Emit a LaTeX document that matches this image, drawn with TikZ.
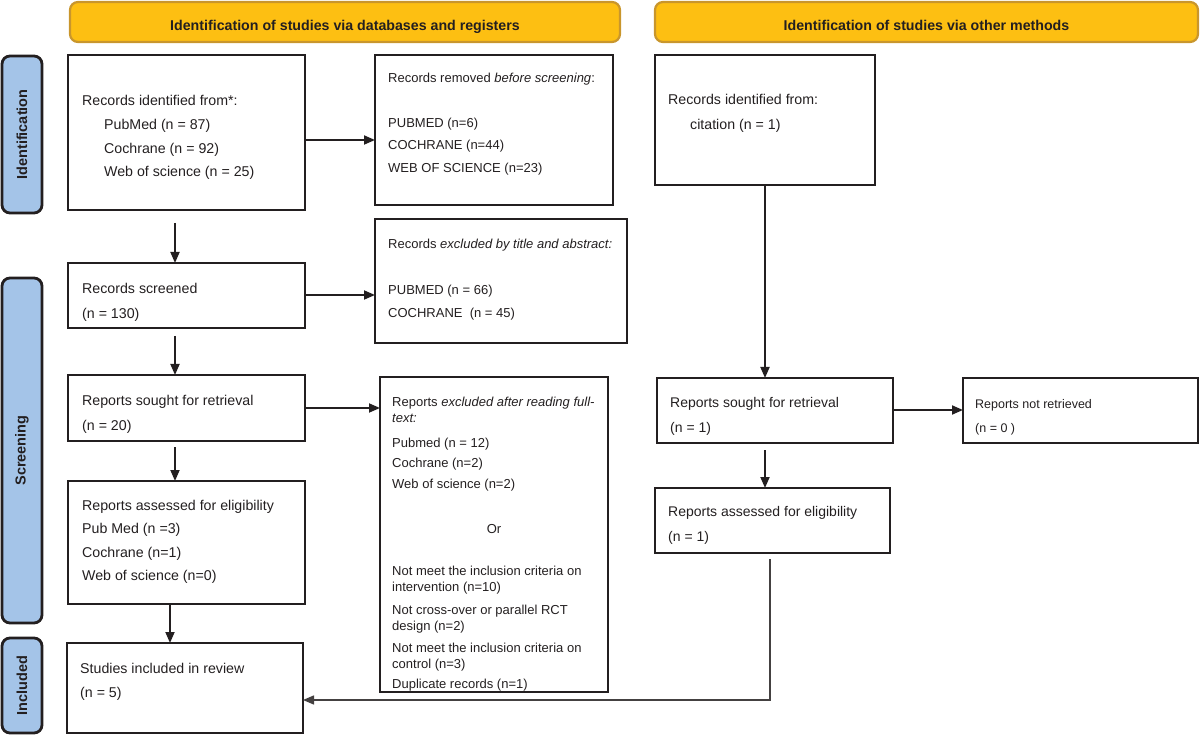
\documentclass[tikz,border=0pt]{standalone}
\usepackage{fontspec}
\setmainfont{Liberation Sans}
\usetikzlibrary{arrows.meta,calc}
\definecolor{ink}{HTML}{231F20}
\definecolor{gold}{HTML}{FDBF12}
\definecolor{goldline}{HTML}{C9962C}
\definecolor{sideblue}{HTML}{A4C4E8}
\newcommand{\mybox}[6][]{\node[box,#1,minimum width={#5-#3},minimum height={#6-#4}] (#2) at ({(#3+#5)/2},{(#4+#6)/2}) {};}
\begin{document}
\begin{tikzpicture}[x=1pt,y=-1pt,
  box/.style={draw=ink, line width=2.8pt, inner sep=0pt, outer sep=0pt, rectangle},
  hdr/.style={draw=goldline, fill=gold, line width=2.2pt, rounded corners=8pt, inner sep=0pt, outer sep=0pt},
  hdrtext/.style={inner sep=0pt, anchor=base, text=ink, font=\fontsize{14.2}{16}\selectfont\bfseries},
  side/.style={draw=ink, fill=sideblue, line width=2.8pt, rounded corners=8pt, inner sep=0pt, outer sep=0pt},
  sidetext/.style={inner sep=0pt, rotate=90, text=ink, font=\fontsize{14.5}{16}\selectfont\bfseries},
  txtL/.style={inner sep=0pt, anchor=north west, align=left, text=ink, font=\fontsize{14.2}{23.7}\selectfont},
  txtS/.style={inner sep=0pt, anchor=north west, align=left, text=ink, font=\fontsize{13}{22.5}\selectfont},
  arr/.style={draw=ink, line width=1.8pt, -{Triangle[length=11pt,width=9pt]}},
  thinarr/.style={draw=ink!85, line width=1.4pt, -{Triangle[length=11pt,width=9pt]}}
]
\useasboundingbox (0,0) rectangle (1200,735);

% headers
\node[hdr, minimum width=550, minimum height=40] (H1) at (345,22) {};
\node[hdrtext] (H1t) at (345,30.5) {Identification of studies via databases and registers};
\node[hdr, minimum width=543, minimum height=40] (H2) at (926.5,22) {};
\node[hdrtext] (H2t) at (926.5,30.5) {Identification of studies via other methods};

% side labels
\node[side, minimum width=40, minimum height=157] (L1) at (22,134.5) {};
\node[sidetext] (L1t) at (L1.center) {Identification};
\node[side, minimum width=40, minimum height=345] (L2) at (22,450.5) {};
\node[sidetext] (L2t) at (L2.center) {Screening};
\node[side, minimum width=40, minimum height=95] (L3) at (22,685.5) {};
\node[sidetext] (L3t) at (L3.center) {Included};

% left column boxes
\mybox{B1}{68}{55}{305}{210}
\node[txtL] (B1t) at (82,95.3) {Records identified from*:\\
\hspace*{22pt}PubMed (n = 87)\\
\hspace*{22pt}Cochrane (n = 92)\\
\hspace*{22pt}Web of science (n = 25)};

\mybox{B2}{375}{55}{613}{205}
\node[txtS] (B2t) at (388,72.5) {Records removed \textit{before screening}:\\[22.5pt]
PUBMED (n=6)\\
COCHRANE (n=44)\\
WEB OF SCIENCE (n=23)};

\mybox{B3}{68}{263}{305}{328}
\node[txtL, font=\fontsize{14.2}{25}\selectfont] (B3t) at (82,282.8) {Records screened\\ (n = 130)};

\mybox{B4}{375}{219}{627}{343}
\node[txtS, font=\fontsize{13}{23}\selectfont] (B4t) at (388,238.5) {Records \textit{excluded by title and abstract:}\\[23.5pt]
PUBMED (n = 66)\\
COCHRANE\ \ (n = 45)};

\mybox{B5}{68}{375}{305}{441}
\node[txtL, font=\fontsize{14.2}{25}\selectfont] (B5t) at (82,394.8) {Reports sought for retrieval\\ (n = 20)};

\node[txtS, font=\fontsize{13}{16}\selectfont] (B6a) at (392,396.5) {Reports \textit{excluded after reading full-}\\
\textit{text:}\\[9pt]
Pubmed (n = 12)\\[4.5pt]
Cochrane (n=2)\\[4.5pt]
Web of science (n=2)};
\node[inner sep=0pt, anchor=base, text=ink, font=\fontsize{13}{16}\selectfont] (B6or) at (494,533) {Or};
\node[txtS, font=\fontsize{13}{16}\selectfont] (B6b) at (392,565.5) {Not meet the inclusion criteria on\\
intervention (n=10)\\[7pt]
Not cross-over or parallel RCT\\
design (n=2)\\[6pt]
Not meet the inclusion criteria on\\
control (n=3)\\[4pt]
Duplicate records (n=1)};
\mybox{B6}{380}{377}{608}{692}

\mybox{B7}{68}{481}{305}{604}
\node[txtL, font=\fontsize{14.2}{23.5}\selectfont] (B7t) at (82,499.8) {Reports assessed for eligibility\\
Pub Med (n =3)\\
Cochrane (n=1)\\
Web of science (n=0)};

\mybox{B8}{67}{643}{303}{733}
\node[txtL, font=\fontsize{14.2}{24}\selectfont] (B8t) at (80,662.8) {Studies included in review\\ (n = 5)};

% right column boxes
\mybox{C1}{655}{55}{875}{185}
\node[txtL, font=\fontsize{14.2}{25.5}\selectfont] (C1t) at (668,93.8) {Records identified from:\\
\hspace*{22pt}citation (n = 1)};

\mybox{C2}{657}{378}{893}{443}
\node[txtL, font=\fontsize{14}{24.5}\selectfont] (C2t) at (670,397.3) {Reports sought for retrieval\\ (n = 1)};

\mybox{C3}{655}{488}{890}{553}
\node[txtL, font=\fontsize{14}{24.5}\selectfont] (C3t) at (668,506.3) {Reports assessed for eligibility\\ (n = 1)};

\mybox{C4}{963}{378}{1198}{443}
\node[txtS, font=\fontsize{12.5}{24}\selectfont] (C4t) at (975,398.9) {Reports not retrieved\\ (n = 0 )};

% helper coordinates
\coordinate (colL) at (175,0);
\coordinate (colL2) at (170,0);
\coordinate (colR) at (765,0);
\coordinate (rowA) at (0,140);
\coordinate (rowB) at (0,295);
\coordinate (rowC) at (0,408);
\coordinate (rowD) at (0,410);
\coordinate (cS) at (770,559);
\coordinate (cT) at (770,700);

% connectors
\draw[arr] ([yshift=-13pt]B1.south -| colL) -- (B3.north -| colL);
\draw[arr] (B1.east |- rowA) -- (B2.west |- rowA);
\draw[arr] (B3.east |- rowB) -- (B4.west |- rowB);
\draw[arr] ([yshift=-8pt]B3.south -| colL) -- (B5.north -| colL);
\draw[arr] (B5.east |- rowC) -- (B6.west |- rowC);
\draw[arr] ([yshift=-6pt]B5.south -| colL) -- (B7.north -| colL);
\draw[arr] (B7.south -| colL2) -- (B8.north -| colL2);
\draw[arr] (C1.south -| colR) -- (C2.north -| colR);
\draw[arr] (C2.east |- rowD) -- (C4.west |- rowD);
\draw[arr] ([yshift=-7pt]C2.south -| colR) -- (C3.north -| colR);
\draw[thinarr] (cS) -- (cT) -- (B8.east |- cT);
\end{tikzpicture}
\end{document}
